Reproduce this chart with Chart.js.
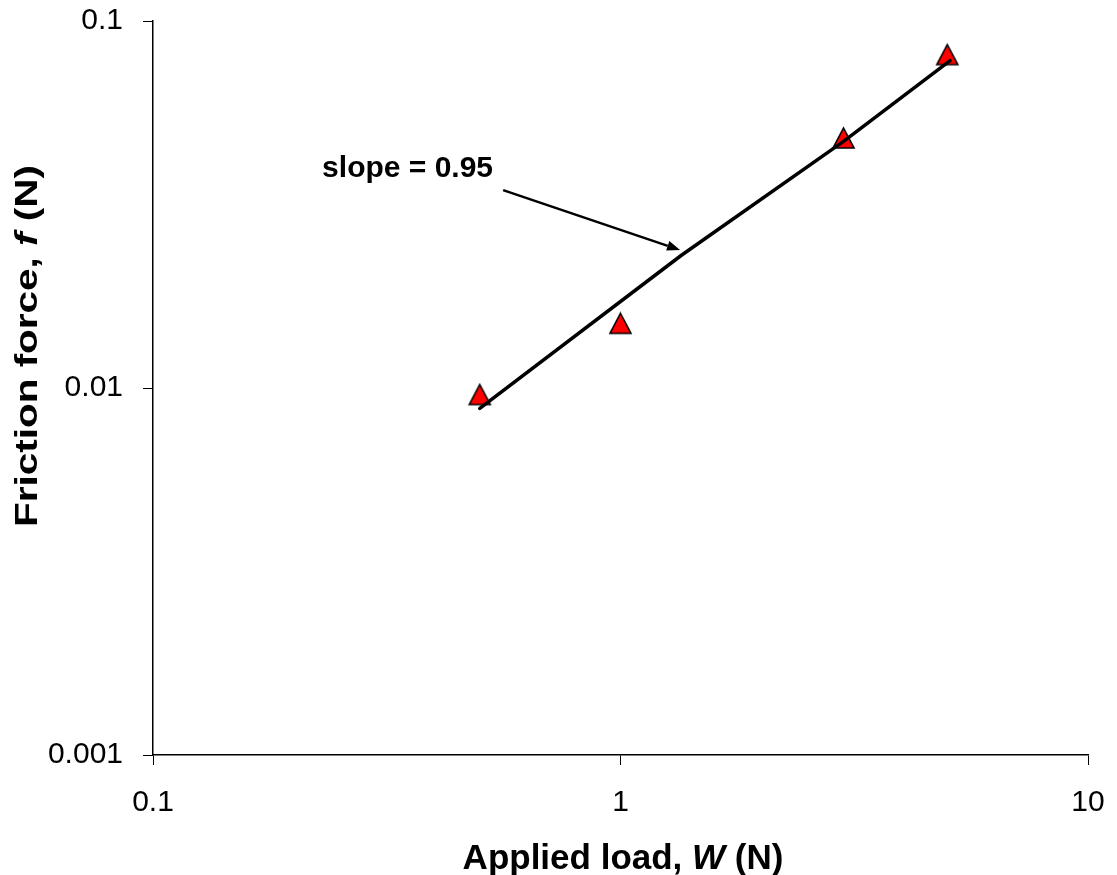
<!DOCTYPE html>
<html>
<head>
<meta charset="utf-8">
<script src="https://cdn.jsdelivr.net/npm/chart.js@4/dist/chart.umd.min.js"></script>
<style>
  body { margin: 0; background: #fff; }
  #wrap { width: 1117px; height: 875px; }
</style>
</head>
<body>
<div id="wrap"><canvas id="frictionChart" width="1117" height="875"></canvas></div>
<script>
// measured points (applied load W, friction force f)
const loads = [0.5, 1, 3, 5];
const forces = [0.0096, 0.015, 0.048, 0.081];

// fitted line as it was drawn on the figure
const fitLoads = [0.5, 1.35, 3, 5.07];
const fitForces = [0.0088, 0.023, 0.047, 0.078];

const xTicks = [0.1, 1, 10];
const yTicks = [0.001, 0.01, 0.1];

const xTitle = [["Applied load, ", false], ["W", true], [" (N)", false]];
const yTitle = [["Friction force, ", false], ["f", true], [" (N)", false]];
const slopeText = "slope = 0.95";
// annotation anchors in data units
const slopeLabelAt = { x: 0.23, y: 0.0376 };
const arrowFrom = { x: 0.561, y: 0.0346 };
const arrowTo = { x: 1.341, y: 0.02377 };

const FONT = "'Liberation Sans', Arial, sans-serif";

// red triangle marker, centred in its box like the original
const makeTriangle = () => {
    const c = document.createElement("canvas");
    c.width = 25;
    c.height = 24;
    const g = c.getContext("2d");
    g.beginPath();
    g.moveTo(12.5, 2);
    g.lineTo(23, 22);
    g.lineTo(2, 22);
    g.closePath();
    g.fillStyle = "#ff0000";
    g.fill();
    g.lineWidth = 1.6;
    g.strokeStyle = "#000";
    g.stroke();
    return c;
};

const drawMixed = (ctx, parts, size, x, y) => {
    // x is the centre, y the baseline
    let total = 0;
    const widths = parts.map(([t, it]) => {
        ctx.font = `${it ? "italic " : ""}bold ${size}px ${FONT}`;
        const w = ctx.measureText(t).width;
        total += w;
        return w;
    });
    let cx = x - total / 2;
    parts.forEach(([t, it], i) => {
        ctx.font = `${it ? "italic " : ""}bold ${size}px ${FONT}`;
        ctx.fillText(t, cx, y);
        cx += widths[i];
    });
    return total;
};

const extras = {
    id: "extras",
    afterDraw(chart) {
        const ctx = chart.ctx;
        const xs = chart.scales.x;
        const ys = chart.scales.y;
        ctx.save();
        ctx.fillStyle = "#000";
        ctx.strokeStyle = "#000";
        ctx.textBaseline = "alphabetic";
        ctx.textAlign = "left";

        // x axis title
        drawMixed(ctx, xTitle, 35, 623, 869);

        // y axis title (stretched along its length like the source)
        ctx.save();
        ctx.translate(37, 346);
        ctx.rotate(-Math.PI / 2);
        let natural = 0;
        yTitle.forEach(([t, it]) => {
            ctx.font = `${it ? "italic " : ""}bold 31px ${FONT}`;
            natural += ctx.measureText(t).width;
        });
        ctx.scale(362 / natural, 1);
        drawMixed(ctx, yTitle, 31, 0, 0);
        ctx.restore();

        // slope label
        ctx.font = `bold 30px ${FONT}`;
        ctx.fillText(slopeText, xs.getPixelForValue(slopeLabelAt.x), ys.getPixelForValue(slopeLabelAt.y));

        // arrow
        const x0 = xs.getPixelForValue(arrowFrom.x), y0 = ys.getPixelForValue(arrowFrom.y);
        const x1 = xs.getPixelForValue(arrowTo.x), y1 = ys.getPixelForValue(arrowTo.y);
        const ang = Math.atan2(y1 - y0, x1 - x0);
        const head = 13, half = 5;
        ctx.lineWidth = 2.5;
        ctx.beginPath();
        ctx.moveTo(x0, y0);
        ctx.lineTo(x1 - head * Math.cos(ang), y1 - head * Math.sin(ang));
        ctx.stroke();
        ctx.beginPath();
        ctx.moveTo(x1, y1);
        ctx.lineTo(x1 - head * Math.cos(ang) + half * Math.sin(ang), y1 - head * Math.sin(ang) - half * Math.cos(ang));
        ctx.lineTo(x1 - head * Math.cos(ang) - half * Math.sin(ang), y1 - head * Math.sin(ang) + half * Math.cos(ang));
        ctx.closePath();
        ctx.fill();
        ctx.restore();
    }
};

const tickFont = { family: FONT, size: 30 };

new Chart(document.getElementById("frictionChart").getContext("2d"), {
    type: "scatter",
    data: {
        datasets: [
            {
                type: "line",
                label: "fit",
                data: fitLoads.map((w, i) => ({ x: w, y: fitForces[i] })),
                borderColor: "#000",
                borderWidth: 3.5,
                borderCapStyle: "round",
                borderJoinStyle: "round",
                pointRadius: 0,
                fill: false,
                tension: 0
            },
            {
                label: "data",
                data: loads.map((w, i) => ({ x: w, y: forces[i] })),
                pointStyle: makeTriangle(),
                pointRadius: 12
            }
        ]
    },
    options: {
        responsive: false,
        animation: false,
        devicePixelRatio: 1,
        layout: { padding: { top: 21, right: 29, left: 0, bottom: 0 } },
        plugins: {
            legend: { display: false },
            tooltip: { enabled: false }
        },
        scales: {
            x: {
                type: "logarithmic",
                min: 0.1,
                max: 10,
                afterBuildTicks: s => { s.ticks = xTicks.map(v => ({ value: v })); },
                afterFit: s => {
                    s.height = 120;
                    s.paddingLeft = 0;
                    s.paddingRight = 0;
                },
                ticks: {
                    callback: v => String(v),
                    font: tickFont,
                    color: "#000",
                    padding: 20,
                    maxRotation: 0,
                    autoSkip: false
                },
                grid: { drawOnChartArea: false, tickLength: 10, color: "#000", lineWidth: 1 },
                border: { color: "#000", width: 1.5 }
            },
            y: {
                type: "logarithmic",
                min: 0.001,
                max: 0.1,
                afterBuildTicks: s => { s.ticks = yTicks.map(v => ({ value: v })); },
                afterFit: s => {
                    s.width = 153;
                    s.paddingTop = 0;
                    s.paddingBottom = 0;
                },
                ticks: {
                    callback: v => String(v),
                    font: tickFont,
                    color: "#000",
                    padding: 20,
                    autoSkip: false
                },
                grid: { drawOnChartArea: false, tickLength: 10, color: "#000", lineWidth: 1 },
                border: { color: "#000", width: 1.5 }
            }
        }
    },
    plugins: [extras]
});
</script>
</body>
</html>
